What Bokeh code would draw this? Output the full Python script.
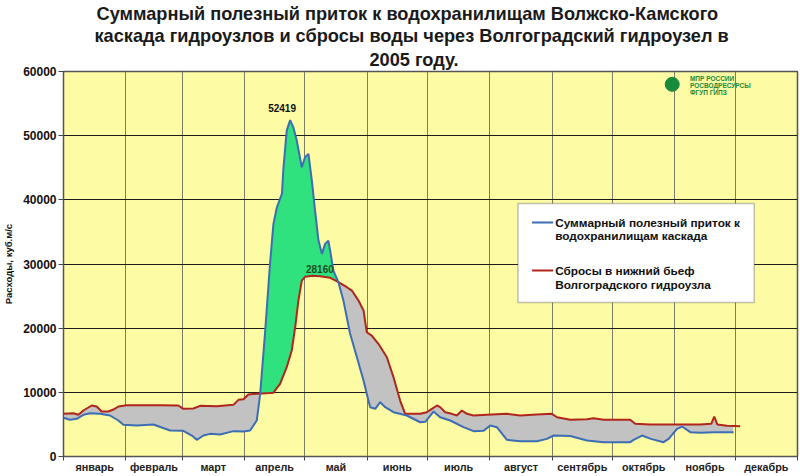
import numpy as np
from bokeh.plotting import figure
from bokeh.models import FixedTicker, Label, BoxAnnotation, Range1d, NumeralTickFormatter, Title
from bokeh.embed import file_html
from bokeh.resources import INLINE

# ---------------- data ----------------
months = ["январь", "февраль", "март", "апрель", "май", "июнь",
          "июль", "август", "сентябрь", "октябрь", "ноябрь", "декабрь"]
month_start_day = [0, 31, 59, 90, 120, 151, 181, 212, 243, 273, 304, 334, 365]

y_ticks = [0, 10000, 20000, 30000, 40000, 50000, 60000]

# Суммарный полезный приток (blue)
inflow_day = [0, 3.2, 6.6, 9.9, 13.2, 18.2, 23.1, 27.3, 29.8, 36.4, 44.7, 53, 59.6,
              63.8, 66.3, 69.6, 72.9, 77.9, 84.5, 89.5, 92.8, 96.1, 97.8, 100.2,
              102.7, 104.4, 106.1, 108.6, 109.4, 111, 112.7, 114.3, 116, 118.5,
              120.1, 121.8, 123.5, 125.1, 126.8, 128.5, 130.1, 131.7, 132.6, 134.2,
              136.7, 139.2, 142.5, 145.9, 149.2, 150.8, 152.5, 155, 157.5, 160,
              164.1, 170.7, 177.4, 179.9, 184, 187.3, 192.3, 198.9, 203.9, 208.9,
              212.2, 215.5, 220.5, 227.1, 235.4, 240.4, 243.7, 252, 260.3, 268.6,
              281.8, 283.5, 287.7, 292.1, 298.4, 300.9, 305.1, 307.6, 311.7, 316.7,
              323.3, 333.2]
inflow = [6030, 5720, 5870, 6500, 6750, 6650, 6390, 5610, 4930, 4830, 4990, 4050, 4000,
          3270, 2600, 3270, 3530, 3430, 3950, 3900, 4050, 5600, 9770, 19160,
          30070, 36250, 38840, 40930, 45070, 50790, 52419, 51300, 49230, 45070,
          46630, 47160, 43000, 38330, 33650, 31580, 33140, 33650, 32100, 28980,
          27160, 24300, 19160, 15470, 11840, 9770, 7680, 7430, 8460, 7680,
          6900, 6390, 5340, 5400, 7000, 6120, 5610, 4570, 3950, 4000,
          4830, 4570, 2600, 2390, 2390, 2750, 3270, 3200, 2490, 2230,
          2230, 2600, 3270, 2750, 2230, 2750, 4310, 4670, 3790, 3690,
          3790, 3790]

# Сбросы в нижний бьеф Волгоградского гидроузла (red)
discharge_day = [0, 4.9, 7.4, 9.9, 14, 16.5, 19, 22.3, 24.8, 27.3, 31.4, 39.7, 48,
                 57.1, 59.6, 64.6, 67.9, 76.2, 84.5, 87, 89.5, 91.9, 94.4, 102.7,
                 104.4, 107.7, 111, 113.5, 115.2, 116.8, 118.5, 120.1, 121, 124,
                 127.6, 132.6, 135.9, 140.9, 143.4, 146.7, 149.2, 150.8, 153.3,
                 156.6, 160.8, 164.1, 167.4, 169.9, 177.4, 180.7, 183.2, 185.7,
                 187.3, 189.8, 193.1, 195.6, 198.1, 200.6, 203.9, 210.5, 220.5,
                 227.1, 235.4, 242.9, 245.4, 252, 260.3, 263.6, 268.6, 281.8,
                 284.3, 291.7, 303.2, 316.6, 322.1, 323.6, 325.1, 329.9, 336.5]
discharge = [6650, 6750, 6500, 7170, 7950, 7790, 7010, 7010, 7320, 7790, 8000, 8000, 8000,
             7950, 7430, 7480, 7900, 7850, 8050, 8830, 8930, 9660, 9750, 9900,
             9950, 11330, 13910, 16510, 20140, 24300, 27420, 28000, 28040, 28160,
             28100, 27840, 27320, 26380, 25860, 24300, 22750, 19370, 18850,
             17560, 15470, 12360, 8720, 6650, 6650, 6900, 7430, 7950,
             7700, 6900, 6650, 6390, 7170, 6650, 6390, 6500, 6650,
             6390, 6550, 6650, 6120, 5720, 5820, 5970, 5720, 5720,
             5090, 5000, 4990, 4990, 5090, 6230, 5000, 4780, 4730]

peak_inflow = 52419
peak_inflow_day = 112.7
peak_discharge = 28160
peak_discharge_day = 124

title_lines = ["Суммарный полезный приток к водохранилищам Волжско-Камского",
               "каскада гидроузлов и сбросы воды через Волгоградский гидроузел в",
               "2005 году."]
legend_inflow = ["Суммарный полезный приток к", "водохранилищам каскада"]
legend_discharge = ["Сбросы в нижний бьеф", "Волгоградского гидроузла"]
logo_lines = ["МПР РОССИИ", "РОСВОДРЕСУРСЫ", "ФГУП ГИПЗ"]

# ---------------- styling ----------------
FONT = "Liberation Sans"
BLUE = "#3d6db4"
RED = "#b0261c"
GREEN = "#2fe27e"
GRAY = "#c2c2c2"

p = figure(width=800, height=476,
           x_range=Range1d(0, 365), y_range=Range1d(0, 60000),
           output_backend="svg", toolbar_location=None,
           min_border_left=63, min_border_right=3,
           min_border_top=71, min_border_bottom=20,
           background_fill_color="#fdfba3", border_fill_color="white",
           outline_line_color="#555555", outline_line_width=1.5)

# title: three stacked lines (added innermost first), left offsets keep them centred near x=410
title_offsets = [33, 31, 306]
title_standoffs = [0, 0, 4]
for line, off, so in reversed(list(zip(title_lines, title_offsets, title_standoffs))):
    p.add_layout(Title(text=line, align="left", offset=off, standoff=so,
                       text_font=FONT, text_font_style="bold", text_font_size="18.2px",
                       text_color="#1a1a1a"), "above")

# grids
p.xgrid.ticker = FixedTicker(ticks=month_start_day[1:-1])
p.xgrid.grid_line_color = "#7d7d63"
p.xgrid.grid_line_width = 1
p.ygrid.ticker = FixedTicker(ticks=y_ticks)
p.ygrid.grid_line_color = "#1e1e1e"
p.ygrid.grid_line_width = 1

# x axis: labels at mid-month, tick marks at month boundaries
mids = [(month_start_day[i] + month_start_day[i + 1]) / 2 for i in range(12)]
p.xaxis.ticker = FixedTicker(ticks=mids, minor_ticks=month_start_day)
p.xaxis.major_label_overrides = {m: name for m, name in zip(mids, months)}
p.xaxis.major_tick_out = 0
p.xaxis.major_tick_in = 0
p.xaxis.minor_tick_out = 4
p.xaxis.minor_tick_in = 0
p.xaxis.minor_tick_line_color = "#444444"
p.xaxis.axis_line_color = "#555555"
p.xaxis.major_label_standoff = 0
p.xaxis.major_label_text_font = FONT
p.xaxis.major_label_text_font_style = "bold"
p.xaxis.major_label_text_font_size = "10.8px"
p.xaxis.major_label_text_color = "#222222"

# y axis
p.yaxis.ticker = FixedTicker(ticks=y_ticks)
p.yaxis.formatter = NumeralTickFormatter(format="0")
p.yaxis.major_tick_out = 5
p.yaxis.major_tick_in = 0
p.yaxis.minor_tick_line_color = None
p.yaxis.major_tick_line_color = "#444444"
p.yaxis.axis_line_color = "#555555"
p.yaxis.major_label_standoff = 2
p.yaxis.major_label_text_font = FONT
p.yaxis.major_label_text_font_style = "bold"
p.yaxis.major_label_text_font_size = "12px"
p.yaxis.major_label_text_color = "#111111"
p.yaxis.axis_label = "Расходы, куб.м/с"
p.yaxis.axis_label_standoff = 6
p.yaxis.axis_label_text_font = FONT
p.yaxis.axis_label_text_font_style = "bold"
p.yaxis.axis_label_text_font_size = "9.5px"
p.yaxis.axis_label_text_color = "#111111"

# fills between the two curves
end_day = min(inflow_day[-1], discharge_day[-1])
grid_days = np.arange(0, end_day + 0.001, 0.25)
fi = np.interp(grid_days, inflow_day, inflow)
fd = np.interp(grid_days, discharge_day, discharge)
top = np.maximum(fi, fd)
p.varea(x=grid_days, y1=fd, y2=top, fill_color=GREEN)
p.varea(x=grid_days, y1=fi, y2=top, fill_color=GRAY)

# curves
p.line(discharge_day, discharge, line_color=RED, line_width=2)
p.line(inflow_day, inflow, line_color=BLUE, line_width=2)

# peak annotations
p.add_layout(Label(x=peak_inflow_day - 4, y=peak_inflow + 1900, text=str(peak_inflow),
                   text_align="center", text_baseline="middle",
                   text_font=FONT, text_font_style="bold", text_font_size="10px",
                   text_color="#111111"))
p.add_layout(Label(x=peak_discharge_day + 3.5, y=peak_discharge + 1000, text=str(peak_discharge),
                   text_align="center", text_baseline="middle",
                   text_font=FONT, text_font_style="bold", text_font_size="10px",
                   text_color="#1d4f1d"))

# legend box drawn by hand (two-line entries)
box = BoxAnnotation(left=226, right=343.5, top=39420, bottom=23990,
                    fill_color="white", fill_alpha=1.0,
                    line_color="#333333", line_width=1.5, level="underlay")
p.add_layout(box)
p.segment(x0=[233, 233], x1=[243.5, 243.5], y0=[36460, 28980], y1=[36460, 28980],
          line_color=[BLUE, RED], line_width=2)
for txt, yv in zip(legend_inflow + legend_discharge, [36460, 34430, 28980, 26800]):
    p.add_layout(Label(x=244.5, y=yv, text=txt, text_align="left", text_baseline="middle",
                       text_font=FONT, text_font_style="bold", text_font_size="11.8px",
                       text_color="#111111"))

# logo
p.scatter(x=[302.7], y=[58000], size=14, marker="circle", fill_color="#178a3c", line_color="#178a3c")
for txt, yv in zip(logo_lines, [58900, 57800, 56750]):
    p.add_layout(Label(x=311.5, y=yv, text=txt, text_align="left", text_baseline="middle",
                       text_font=FONT, text_font_style="bold", text_font_size="6.5px",
                       text_color="#178a3c"))

open("out.html", "w").write(file_html(p, INLINE))
